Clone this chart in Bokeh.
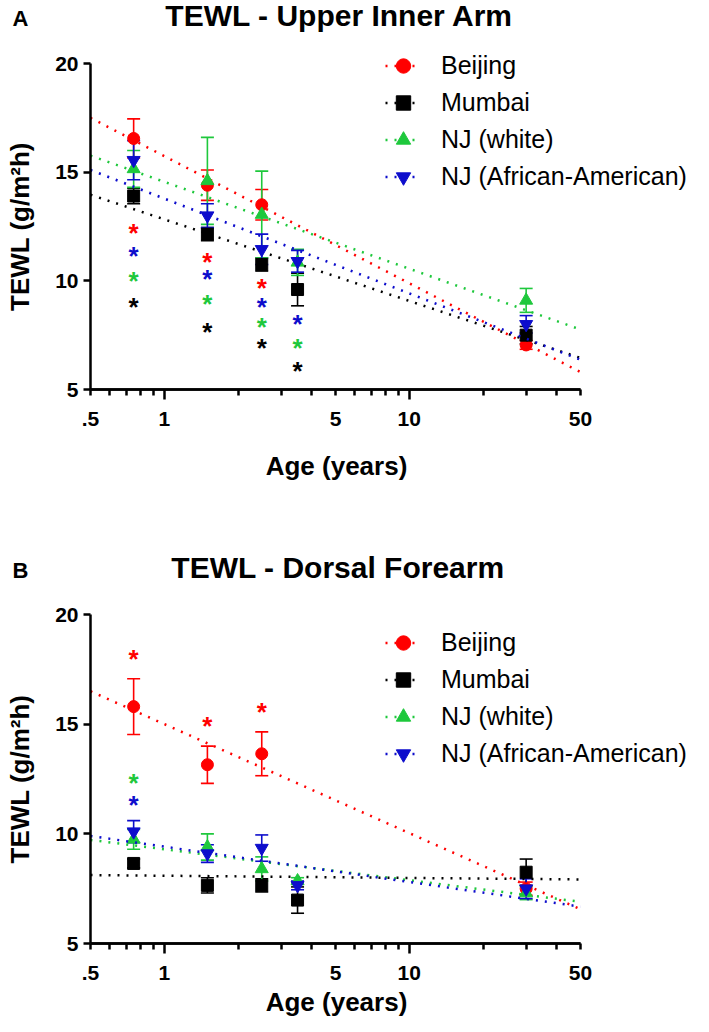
import numpy as np
from bokeh.plotting import figure
from bokeh.models import (Range1d, FixedTicker, Whisker, TeeHead, ColumnDataSource,
                          Legend, LegendItem, Label, LogAxis)
from bokeh.layouts import column
from bokeh.embed import file_html
from bokeh.resources import INLINE
from bokeh.core.properties import value

FONT = "Liberation Sans"

# ---------------- data ----------------
series_names = ["Beijing", "Mumbai", "NJ (white)", "NJ (African-American)"]
series_colors = ["#ff0000", "#000000", "#1ec83c", "#0d0dcc"]
series_markers = ["circle", "square", "triangle", "inverted_triangle"]
series_sizes = [12, 12, 13, 13]

ages_all = [0.75, 1.5, 2.5, 3.5, 30]
ages_beijing = [0.75, 1.5, 2.5, 30]

x_long_ticks = [1, 10]
x_short_ticks = [0.5, 5, 50]
x_tick_labels = {0.5: ".5", 1: "1", 5: "5", 10: "10", 50: "50"}
x_minor_ticks = [0.6, 0.7, 0.8, 0.9, 2, 3, 4, 6, 7, 8, 9, 20, 30, 40]
y_ticks = [5, 10, 15, 20]
x_axis_span = (0.5, 50)
y_axis_span = (5, 20)
fit_ages = [0.5, 50]

# Panel A - Upper Inner Arm (mean, SEM)
a_beijing_mean = [16.55, 14.4, 13.5, 7.05]
a_beijing_sem = [0.9, 0.7, 0.7, 0.2]
a_mumbai_mean = [13.9, 12.15, 10.75, 9.6, 7.5]
a_mumbai_sem = [0.35, 0.3, 0.3, 0.75, 0.4]
a_njw_mean = [15.15, 14.6, 13.05, 10.85, 9.1]
a_njw_sem = [0.85, 2.0, 2.0, 0.6, 0.55]
a_njaa_mean = [15.55, 13.0, 11.45, 10.9, 8.0]
a_njaa_sem = [0.9, 0.55, 0.7, 0.5, 0.4]
# trend lines: value at age 0.5 and at age 50
a_fit_beijing = [17.5, 5.8]
a_fit_mumbai = [13.96, 6.45]
a_fit_njw = [15.76, 7.76]
a_fit_njaa = [15.1, 6.37]
# significance stars
a_star_age = [0.75, 0.75, 0.75, 0.75, 1.5, 1.5, 1.5, 1.5, 2.5, 2.5, 2.5, 2.5, 3.5, 3.5, 3.5]
a_star_tewl = [12.33, 11.27, 10.14, 8.94, 11.0, 10.22, 9.06, 7.8, 9.8, 8.94, 8.02, 7.06, 8.17, 7.03, 6.0]
a_star_series = [0, 3, 2, 1, 0, 3, 2, 1, 0, 3, 2, 1, 3, 2, 1]

# Panel B - Dorsal Forearm
b_beijing_mean = [15.8, 13.15, 13.65, 7.5]
b_beijing_sem = [1.27, 0.85, 1.0, 0.3]
b_mumbai_mean = [8.65, 7.65, 7.65, 6.98, 8.25]
b_mumbai_sem = [0.2, 0.35, 0.3, 0.6, 0.6]
b_njw_mean = [9.75, 9.4, 8.4, 7.85, 7.3]
b_njw_sem = [0.45, 0.6, 0.55, 0.15, 0.3]
b_njaa_mean = [10.1, 9.1, 9.35, 7.65, 7.5]
b_njaa_sem = [0.5, 0.4, 0.6, 0.2, 0.45]
b_fit_beijing = [16.5, 6.56]
b_fit_mumbai = [8.12, 7.92]
b_fit_njw = [9.72, 6.9]
b_fit_njaa = [9.9, 6.68]
b_star_age = [0.75, 1.5, 2.5, 0.75, 0.75]
b_star_tewl = [18.1, 15.07, 15.7, 12.47, 11.44]
b_star_series = [0, 0, 0, 2, 3]

W = 693
AX_LEFT, AX_RIGHT = 90, 580      # pixel columns of ages 0.5 and 50


def style_axis(ax):
    ax.axis_line_width = 2.5
    ax.major_tick_line_width = 2.5
    ax.minor_tick_line_width = 2.5
    ax.major_tick_in = 0
    ax.minor_tick_in = 0
    ax.major_label_text_font = FONT
    ax.major_label_text_font_style = "bold"
    ax.major_label_text_font_size = "21px"
    ax.major_label_text_color = "black"
    ax.axis_line_color = "black"
    ax.major_tick_line_color = "black"


def make_panel(title, letter, ages_list, means, sems, fits, star_age, star_tewl, star_series,
               height, ax_top, ax_bottom, legend_top, title_x, title_y, xlab_y):
    # ranges chosen so that the axes (0.5..50, 5..20) sit at the wanted pixels
    dec_per_px = np.log10(x_axis_span[1] / x_axis_span[0]) / (AX_RIGHT - AX_LEFT)
    xlo = x_axis_span[0] * 10 ** (-AX_LEFT * dec_per_px)
    xhi = x_axis_span[1] * 10 ** ((W - AX_RIGHT) * dec_per_px)
    u_per_px = (y_axis_span[1] - y_axis_span[0]) / (ax_bottom - ax_top)
    ylo = y_axis_span[0] - (height - ax_bottom) * u_per_px
    yhi = y_axis_span[1] + ax_top * u_per_px

    p = figure(width=W, height=height, x_axis_type="log",
               x_range=Range1d(xlo, xhi), y_range=Range1d(ylo, yhi),
               output_backend="svg", toolbar_location=None, title=None,
               min_border=0)
    p.outline_line_color = None
    p.xgrid.visible = False
    p.ygrid.visible = False

    # x axis: long ticks at 1 and 10 plus minor ticks
    xa = p.xaxis[0]
    xa.fixed_location = y_axis_span[0]
    xa.bounds = x_axis_span
    xa.ticker = FixedTicker(ticks=x_long_ticks, minor_ticks=x_minor_ticks)
    xa.major_label_overrides = {k: v for k, v in x_tick_labels.items() if k in x_long_ticks}
    style_axis(xa)
    xa.major_tick_out = 10
    xa.minor_tick_out = 6
    xa.major_label_standoff = 12
    # second x axis at the same place: short labelled ticks at .5, 5, 50
    xa2 = LogAxis(fixed_location=y_axis_span[0], bounds=x_axis_span,
                  ticker=FixedTicker(ticks=x_short_ticks, minor_ticks=[]),
                  major_label_overrides={k: v for k, v in x_tick_labels.items()
                                         if k in x_short_ticks})
    style_axis(xa2)
    xa2.major_tick_out = 6
    xa2.minor_tick_line_color = None
    xa2.major_label_standoff = 16
    p.add_layout(xa2, "below")

    ya = p.yaxis[0]
    ya.fixed_location = x_axis_span[0]
    ya.bounds = y_axis_span
    ya.ticker = FixedTicker(ticks=y_ticks, minor_ticks=[])
    style_axis(ya)
    ya.major_tick_out = 7
    ya.minor_tick_line_color = None
    ya.major_label_standoff = 5

    items = []
    for i in range(4):
        c = series_colors[i]
        xs = ages_list[i]
        m = np.array(means[i])
        s = np.array(sems[i])
        src = ColumnDataSource(dict(x=xs, y=m, upper=m + s, lower=m - s))
        ln = p.line(fit_ages, fits[i], line_color=c, line_width=2.5, line_dash="2 7")
        w = Whisker(source=src, base="x", upper="upper", lower="lower", dimension="height",
                    line_color=c, line_width=1.6,
                    upper_head=TeeHead(size=13, line_color=c, line_width=1.6),
                    lower_head=TeeHead(size=13, line_color=c, line_width=1.6))
        p.add_layout(w)
        sc = p.scatter("x", "y", source=src, marker=series_markers[i], size=series_sizes[i],
                       fill_color=c, line_color=c)
        items.append(LegendItem(label=series_names[i], renderers=[ln, sc]))

    star_src = ColumnDataSource(dict(x=star_age, y=star_tewl,
                                     color=[series_colors[k] for k in star_series],
                                     t=["*"] * len(star_age)))
    p.text("x", "y", text="t", source=star_src, text_color="color",
           text_font=value(FONT), text_font_style="bold", text_font_size="26px",
           text_align="center", text_baseline="alphabetic", y_offset=3)

    legend = Legend(items=items, location=(385, height - legend_top - 148),
                    orientation="vertical",
                    glyph_width=36, glyph_height=37, label_height=37, spacing=0,
                    padding=0, margin=0, border_line_color=None, background_fill_alpha=0,
                    label_text_font=FONT, label_text_font_size="25px",
                    label_text_color="black",
                    label_standoff=20, label_text_baseline="middle")
    p.add_layout(legend, "center")

    common = dict(x_units="screen", y_units="screen", text_font=FONT,
                  text_font_style="bold", text_color="black", text_baseline="middle",
                  text_align="center")
    p.add_layout(Label(x=title_x, y=height - title_y, text=title, text_font_size="30px",
                       **common))
    p.add_layout(Label(x=20, y=height - title_y - 3, text=letter, text_font_size="22px",
                       **common))
    p.add_layout(Label(x=19, y=height - (ax_top + ax_bottom) / 2,
                       text="TEWL (g/m²h)", angle=np.pi / 2, text_font_size="26px",
                       **common))
    p.add_layout(Label(x=336, y=height - xlab_y, text="Age (years)",
                       text_font_size="26px", **common))
    return p


ages_lists = [ages_beijing, ages_all, ages_all, ages_all]

pA = make_panel("TEWL - Upper Inner Arm", "A", ages_lists,
                [a_beijing_mean, a_mumbai_mean, a_njw_mean, a_njaa_mean],
                [a_beijing_sem, a_mumbai_sem, a_njw_sem, a_njaa_sem],
                [a_fit_beijing, a_fit_mumbai, a_fit_njw, a_fit_njaa],
                a_star_age, a_star_tewl, a_star_series,
                height=514, ax_top=63, ax_bottom=389, legend_top=46.5,
                title_x=339, title_y=15, xlab_y=465)
pB = make_panel("TEWL - Dorsal Forearm", "B", ages_lists,
                [b_beijing_mean, b_mumbai_mean, b_njw_mean, b_njaa_mean],
                [b_beijing_sem, b_mumbai_sem, b_njw_sem, b_njaa_sem],
                [b_fit_beijing, b_fit_mumbai, b_fit_njw, b_fit_njaa],
                b_star_age, b_star_tewl, b_star_series,
                height=502, ax_top=100, ax_bottom=429, legend_top=109.5,
                title_x=337.5, title_y=53, xlab_y=487)

layout = column(pA, pB, spacing=0)
open("out.html", "w").write(file_html(layout, INLINE))
